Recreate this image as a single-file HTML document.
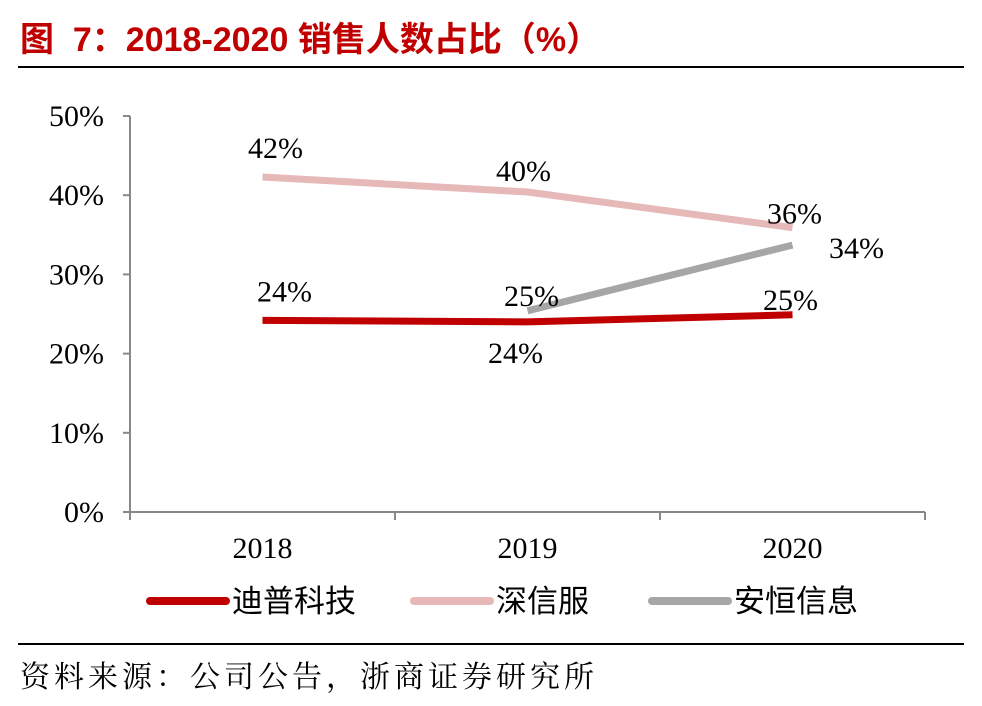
<!DOCTYPE html>
<html><head><meta charset="utf-8"><style>
body{margin:0;width:982px;height:706px;background:#fff;overflow:hidden;position:relative}
.t{position:absolute;left:20px;top:12px;font:bold 34px "Liberation Sans","Noto Sans CJK SC",sans-serif;color:#c00000;white-space:nowrap}
.hr{position:absolute;left:18px;right:18px;height:2px;background:#000}
.src{position:absolute;left:20px;top:652px;font:30px "Noto Serif CJK SC","Noto Sans CJK SC",serif;letter-spacing:4px;color:#000;white-space:nowrap}
</style></head><body>
<div class="t">图&nbsp; 7：2018-2020 销售人数占比（%）</div>
<div class="hr" style="top:66px"></div>
<svg id="c" width="982" height="706" style="position:absolute;left:0;top:0"></svg>
<div class="hr" style="top:643px;height:1.5px"></div>
<div class="src">资料来源：公司公告，浙商证券研究所</div>
<script>
const categories=["2018","2019","2020"];
const yTicks=[0,10,20,30,40,50];
const seriesNames=["迪普科技","深信服","安恒信息"];
const dptech=[24.2,24.0,24.9];
const sangfor=[42.3,40.4,35.9];
const dbappsec=[null,25.4,33.7];
const colors=["#c00000","#e6b8b7","#a6a6a6"];
const NS="http://www.w3.org/2000/svg";
const svg=document.getElementById('c');
const X0=130,X1=925,Y0=512,Y1=116;
const y=v=>Y0-(v/50)*(Y0-Y1);
const band=(X1-X0)/categories.length;
const x=i=>X0+band*(i+0.5);
function mk(t,a){const e=document.createElementNS(NS,t);for(const k in a)e.setAttribute(k,a[k]);svg.appendChild(e);return e;}
let e=mk('line',{x1:X0,y1:Y1,x2:X0,y2:Y0,stroke:'#888','stroke-width':2});


e=mk('line',{x1:X0,y1:Y0,x2:X1,y2:Y0,stroke:'#888','stroke-width':2});


yTicks.forEach(v=>{
 mk('line',{x1:X0-7,y1:y(v),x2:X0,y2:y(v),stroke:'#888','stroke-width':2});
 const t=mk('text',{x:X0-26,y:y(v)+10,'text-anchor':'end','font-family':'Liberation Serif,serif','font-size':30});
 t.textContent=v+'%';
 
 
});
for(let i=0;i<=categories.length;i++){const xx=X0+band*i;mk('line',{x1:xx,y1:Y0,x2:xx,y2:Y0+8,stroke:'#888','stroke-width':2});}
categories.forEach((c,i)=>{
 const t=mk('text',{x:x(i),y:558,'text-anchor':'middle','font-family':'Liberation Serif,serif','font-size':30});
 t.textContent=c;
 
 
});
const all=[dptech,sangfor,dbappsec];
const lblOff=[[[14,-14],[-20,46],[-10,0]],[[5,-14],[-12,-6],[-6,1]],[[0,0],[-4,0],[56,18]]];
[1,2,0].forEach(s=>{
 const d=all[s];const pts=[];
 d.forEach((v,i)=>{if(v!=null)pts.push([x(i),y(v)]);});
 const p=mk('polyline',{points:pts.map(p=>p.join(',')).join(' '),fill:'none',stroke:colors[s],'stroke-width':7,'stroke-linecap':'butt'});
 
 
});
[0,1,2].forEach(s=>{
 all[s].forEach((v,i)=>{
  if(v==null)return;
  const o=lblOff[s][i];
  const t=mk('text',{x:x(i)+o[0]+8,y:y(v)+o[1]-5,'text-anchor':'middle','font-family':'Liberation Serif,serif','font-size':30});
  t.textContent=Math.round(v)+'%';
  
  
 });
});
const lx=[150,414,652];
seriesNames.forEach((n,i)=>{
 const l=mk('line',{x1:lx[i],y1:601,x2:lx[i]+76,y2:601,stroke:colors[i],'stroke-width':8,'stroke-linecap':'round'});
 
 
 const t=mk('text',{x:lx[i]+82,y:612,'font-family':'Noto Sans CJK SC,sans-serif','font-size':31});
 t.textContent=n;
 
 
});
</script>
</body></html>
